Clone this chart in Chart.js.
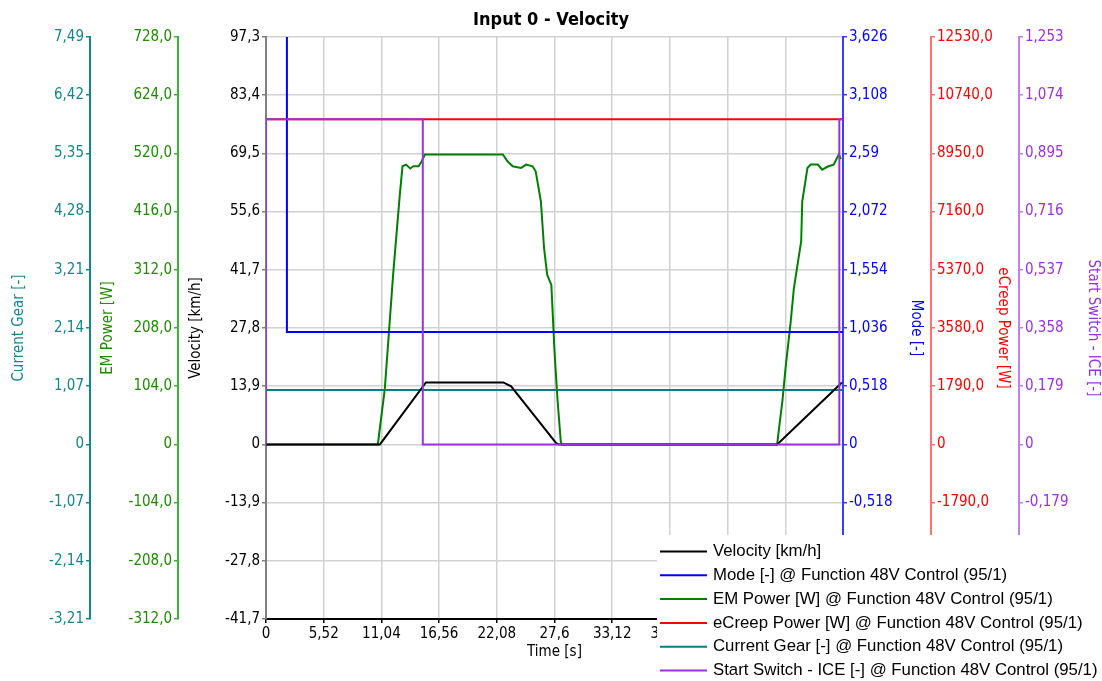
<!DOCTYPE html>
<html>
<head>
<meta charset="utf-8">
<script src="https://cdn.jsdelivr.net/npm/chart.js@4"></script>
<style>
  body { margin: 0; background: #fff; }
  #wrap { width: 1102px; height: 681px; position: relative; }
</style>
</head>
<body>
<div id="wrap"><canvas id="myChart"></canvas></div>
<script>
// series data (time in s)
var velocityTime = [0, 10.9, 15.3, 22.7, 23.45, 27.76, 28.05, 48.9, 55.1];
var velocityValues = [0, 0, 14.8, 14.8, 13.85, 0.3, 0, 0, 14.8];

var modeTime = [0, 2.0, 2.0, 55.2];
var modeValues = [4.0, 4.0, 1, 1];

var emTime = [0, 10.7, 11.37, 12.16, 12.8, 13.06, 13.4, 13.8, 14.1, 14.6, 14.9, 15.2,
  22.66, 23.1, 23.6, 24.4, 24.9, 25.5, 25.8, 26.3, 26.6, 26.9, 27.3, 27.6, 27.9, 28.2, 28.3,
  48.9, 49.1, 49.4, 49.7, 50.2, 50.5, 50.9, 51.2, 51.3, 51.6, 51.8, 52.1, 52.8, 53.2, 53.8, 54.3, 54.8, 55.0];
var emValues = [0, 0, 100, 303, 446, 497, 500, 493, 497, 497, 506, 518,
  518, 506, 497, 494, 500, 497, 488, 434, 351, 303, 285, 166, 77, 5, 0,
  0, 32, 77, 136, 220, 279, 327, 363, 434, 470, 494, 500, 500, 491, 497, 500, 518, 510];

var ecreepTime = [0, 55.2];
var ecreepValues = [10000, 10000];

var gearTime = [0, 55.2];
var gearValues = [1, 1];

var switchTime = [0, 0, 15.0, 15.0, 54.85, 54.85, 55.2];
var switchValues = [0, 1, 1, 0, 0, 1, 1];

// tick values and labels
var timeTicks = [0, 5.52, 11.04, 16.56, 22.08, 27.6, 33.12, 38.64, 44.16, 49.68, 55.2];
var timeLabels = ['0', '5,52', '11,04', '16,56', '22,08', '27,6', '33,12', '38,64', '44,16', '49,68', '55,2'];
var velocityTicks = [-41.7, -27.8, -13.9, 0, 13.9, 27.8, 41.7, 55.6, 69.5, 83.4, 97.3];
var velocityLabels = ['-41,7', '-27,8', '-13,9', '0', '13,9', '27,8', '41,7', '55,6', '69,5', '83,4', '97,3'];
var emTicks = [-312, -208, -104, 0, 104, 208, 312, 416, 520, 624, 728];
var emLabels = ['-312,0', '-208,0', '-104,0', '0', '104,0', '208,0', '312,0', '416,0', '520,0', '624,0', '728,0'];
var gearTicks = [-3.21, -2.14, -1.07, 0, 1.07, 2.14, 3.21, 4.28, 5.35, 6.42, 7.49];
var gearLabels = ['-3,21', '-2,14', '-1,07', '0', '1,07', '2,14', '3,21', '4,28', '5,35', '6,42', '7,49'];
var modeTicks = [-1.554, -1.036, -0.518, 0, 0.518, 1.036, 1.554, 2.072, 2.59, 3.108, 3.626];
var modeLabels = ['-1,554', '-1,036', '-0,518', '0', '0,518', '1,036', '1,554', '2,072', '2,59', '3,108', '3,626'];
var ecreepTicks = [-5370, -3580, -1790, 0, 1790, 3580, 5370, 7160, 8950, 10740, 12530];
var ecreepLabels = ['-5370,0', '-3580,0', '-1790,0', '0', '1790,0', '3580,0', '5370,0', '7160,0', '8950,0', '10740,0', '12530,0'];
var switchTicks = [-0.537, -0.358, -0.179, 0, 0.179, 0.358, 0.537, 0.716, 0.895, 1.074, 1.253];
var switchLabels = ['-0,537', '-0,358', '-0,179', '0', '0,179', '0,358', '0,537', '0,716', '0,895', '1,074', '1,253'];

var tickFont = { family: "'DejaVu Sans Condensed', 'DejaVu Sans', sans-serif", size: 15 };

function points(t, v) {
  return t.map(function (x, i) { return { x: x, y: v[i] }; });
}

function sideAxis(position, color, lineColor, title, ticks, labels, width, titlePad, main) {
  return {
    type: 'linear',
    position: position,
    min: ticks[0],
    max: ticks[ticks.length - 1],
    afterBuildTicks: function (scale) {
      scale.ticks = ticks.map(function (v) { return { value: v }; });
    },
    afterFit: function (scale) { scale.width = width; },
    ticks: {
      color: color,
      font: tickFont,
      padding: 2,
      callback: function (value, index) { return labels[index]; }
    },
    grid: {
      drawOnChartArea: !!main,
      color: '#d2d2d2',
      lineWidth: 1.5,
      tickLength: 4,
      tickColor: lineColor
    },
    border: { display: true, color: lineColor, width: 2 },
    title: { display: true, text: title, color: color, font: tickFont, padding: { top: titlePad, bottom: 4 } }
  };
}

var legendBox = {
  id: 'legendBox',
  afterDraw: function (chart) {
    var ctx = chart.ctx;
    var left = chart.width - 445, top = chart.height - 146;
    ctx.save();
    ctx.fillStyle = '#ffffff';
    ctx.fillRect(left, top, 445, 146);
    ctx.font = "16.8px 'Liberation Sans', Arial, sans-serif";
    ctx.textBaseline = 'middle';
    chart.data.datasets.forEach(function (ds, i) {
      var y = top + 16.5 + i * 23.8;
      ctx.strokeStyle = ds.borderColor;
      ctx.lineWidth = 2;
      ctx.beginPath();
      ctx.moveTo(left + 3, y);
      ctx.lineTo(left + 50, y);
      ctx.stroke();
      ctx.fillStyle = '#000000';
      ctx.fillText(ds.label, left + 56, y);
    });
    ctx.restore();
  }
};

var chartCanvas = document.getElementById('myChart');

var data = {
  datasets: [{
    label: 'Velocity [km/h]',
    data: points(velocityTime, velocityValues),
    borderColor: '#000000',
    yAxisID: 'y'
  }, {
    label: 'Mode [-] @ Function 48V Control (95/1)',
    data: points(modeTime, modeValues),
    borderColor: '#0000ff',
    yAxisID: 'yMode'
  }, {
    label: 'EM Power [W] @ Function 48V Control (95/1)',
    data: points(emTime, emValues),
    borderColor: '#008000',
    yAxisID: 'yEm'
  }, {
    label: 'eCreep Power [W] @ Function 48V Control (95/1)',
    data: points(ecreepTime, ecreepValues),
    borderColor: '#ff0000',
    yAxisID: 'yEcreep'
  }, {
    label: 'Current Gear [-] @ Function 48V Control (95/1)',
    data: points(gearTime, gearValues),
    borderColor: '#008080',
    yAxisID: 'yGear'
  }, {
    label: 'Start Switch - ICE [-] @ Function 48V Control (95/1)',
    data: points(switchTime, switchValues),
    borderColor: '#9b30e8',
    yAxisID: 'ySwitch',
    order: -1
  }]
};

var options = {
  responsive: true,
  maintainAspectRatio: false,
  animation: false,
  layout: { padding: 0 },
  elements: {
    point: { radius: 0 },
    line: { borderWidth: 2, tension: 0, fill: false }
  },
  plugins: {
    legend: { display: false },
    tooltip: { enabled: false },
    title: {
      display: true,
      text: 'Input 0 - Velocity',
      color: '#000000',
      font: { family: "'DejaVu Sans Condensed', 'DejaVu Sans', sans-serif", size: 18, weight: 'bold' },
      padding: { top: 10, bottom: 5.4 }
    }
  },
  scales: {
    x: {
      type: 'linear',
      min: timeTicks[0],
      max: timeTicks[timeTicks.length - 1],
      afterBuildTicks: function (scale) {
        scale.ticks = timeTicks.map(function (v) { return { value: v }; });
      },
      afterFit: function (scale) { scale.height = 62; },
      ticks: {
        color: '#000000',
        font: tickFont,
        padding: 2,
        maxRotation: 0,
        callback: function (value, index) { return timeLabels[index]; }
      },
      grid: { color: '#d2d2d2', lineWidth: 1.5, tickLength: 4, tickColor: '#000000' },
      border: { display: true, color: '#000000', width: 2 },
      title: { display: true, text: 'Time [s]', color: '#000000', font: tickFont, padding: { top: 0, bottom: 20 } }
    },
    y: sideAxis('left', '#000000', '#808080', 'Velocity [km/h]', velocityTicks, velocityLabels, 88, 9, true),
    yEm: sideAxis('left', '#1e8c00', '#3cb43c', 'EM Power [W]', emTicks, emLabels, 88, 9),
    yGear: sideAxis('left', '#12878c', '#12878c', 'Current Gear [-]', gearTicks, gearLabels, 90, 10),
    yMode: sideAxis('right', '#0000ff', '#3c3cff', 'Mode [-]', modeTicks, modeLabels, 88, 6),
    yEcreep: sideAxis('right', '#ff0000', '#ff7070', 'eCreep Power [W]', ecreepTicks, ecreepLabels, 88, 7),
    ySwitch: sideAxis('right', '#9b30e8', '#c080f0', 'Start Switch - ICE [-]', switchTicks, switchLabels, 83, 0)
  }
};

var myChart = new Chart(chartCanvas, {
  type: 'line',
  data: data,
  options: options,
  plugins: [legendBox]
});
</script>
</body>
</html>
